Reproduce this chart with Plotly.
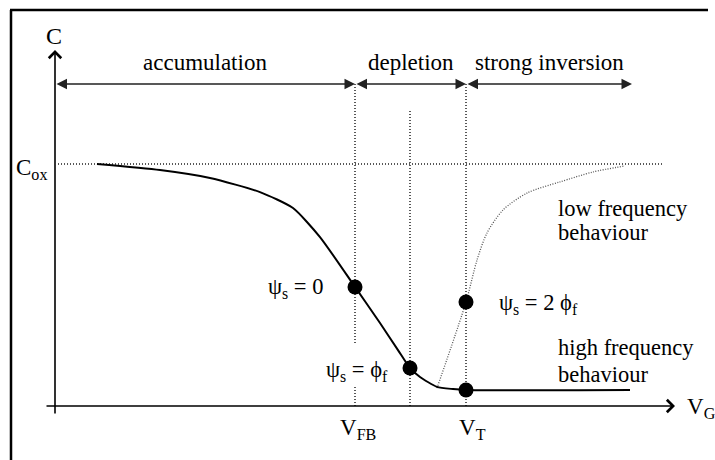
import plotly.graph_objects as go

# Gate voltage V_G in arbitrary units, capacitance normalised to C_ox
hf_v = [4.2, 10.5, 15.5, 20.5, 23.8, 26.5, 30.0, 32.5, 34.3, 35.5, 36.5, 38.2, 39.8, 41.1, 57.5]
hf_c = [1.0, 0.975, 0.942, 0.884, 0.818, 0.698, 0.492, 0.343, 0.231, 0.157, 0.12, 0.079, 0.07, 0.066, 0.066]

lf_v = [38.2, 41.1, 42.2, 43.2, 44.8, 47.2, 50.5, 53.8, 57.0]
lf_c = [0.074, 0.43, 0.603, 0.715, 0.81, 0.88, 0.926, 0.967, 0.992]

c_ox = 1.0
cox_span = [0.3, 60.8]

v_fb, v_phi, v_t = 30.0, 35.5, 41.1
point_v = [v_fb, v_phi, v_t, v_t]
point_c = [0.492, 0.157, 0.43, 0.066]

regions = ["accumulation", "depletion", "strong inversion"]
region_edges = [0.0, v_fb, v_t, 57.7]
region_level = 1.331

FONT = "Liberation Serif"
X_RANGE = [-5.5, 66.0]
Y_RANGE = [-0.2231, 1.6777]

fig = go.Figure()

# C_ox reference level
fig.add_trace(go.Scatter(x=cox_span, y=[c_ox, c_ox], mode="lines",
                         line=dict(color="#222", width=1.5, dash="1px,2px"),
                         hoverinfo="skip"))

# vertical guides at V_FB, the psi_s = phi_f point and V_T
guide_x = [v_fb, v_fb, None, v_fb, v_fb, None, v_phi, v_phi, None, v_t, v_t]
guide_y = [region_level, 0.26, None, 0.079, 0.0, None, 1.219, 0.0, None, region_level, 0.0]
fig.add_trace(go.Scatter(x=guide_x, y=guide_y, mode="lines",
                         line=dict(color="#222", width=1.5, dash="1px,2px"),
                         hoverinfo="skip"))

# low-frequency branch
fig.add_trace(go.Scatter(x=lf_v, y=lf_c, mode="lines",
                         line=dict(color="#555", width=1.3, dash="1px,1.5px", shape="spline", smoothing=0.8),
                         hoverinfo="skip"))

# high-frequency curve
fig.add_trace(go.Scatter(x=hf_v, y=hf_c, mode="lines",
                         line=dict(color="black", width=2, shape="spline", smoothing=0.6),
                         hoverinfo="skip"))

# characteristic points
fig.add_trace(go.Scatter(x=point_v, y=point_c, mode="markers",
                         marker=dict(color="black", size=15), hoverinfo="skip"))

annotations = []

# axes with arrowheads
annotations.append(dict(x=62.0, y=0.0, ax=-1.0, ay=0.0, xref="x", yref="y", axref="x", ayref="y",
                        text="", showarrow=True, arrowhead=4, arrowsize=1.5, arrowwidth=1.6,
                        arrowcolor="black"))
annotations.append(dict(x=0.0, y=1.471, ax=0.0, ay=-0.037, xref="x", yref="y", axref="x", ayref="y",
                        text="", showarrow=True, arrowhead=4, arrowsize=1.5, arrowwidth=1.6,
                        arrowcolor="black"))

# region arrows
for i, name in enumerate(regions):
    a, b = region_edges[i], region_edges[i + 1]
    annotations.append(dict(x=b, y=region_level, ax=a, ay=region_level,
                            xref="x", yref="y", axref="x", ayref="y", text="",
                            showarrow=True, arrowhead=2, arrowside="end+start",
                            arrowsize=1.4, arrowwidth=1.5, arrowcolor="#222"))
    annotations.append(dict(x=(a + b) / 2, y=1.421, xref="x", yref="y",
                            text=name, showarrow=False, xanchor="center", yanchor="middle",
                            font=dict(family=FONT, size=23, color="black")))


def label(text, x, y, xanchor="left", size=22.5):
    annotations.append(dict(x=x, y=y, xref="x", yref="y", text=text, showarrow=False,
                            xanchor=xanchor, yanchor="middle",
                            font=dict(family=FONT, size=size, color="black")))


label("C", -0.1, 1.529, xanchor="center", size=24)
label("C<sub>ox</sub>", -4.1, 0.98, size=23)
label("V<sub>G</sub>", 63.0, -0.01, size=23)
label("V<sub>FB</sub>", 28.3, -0.095, size=23)
label("V<sub>T</sub>", 40.2, -0.095, size=23)

label("ψ<sub>s</sub> = 0", 27.0, 0.488, xanchor="right")
label("ψ<sub>s</sub> = ϕ<sub>f</sub>", 33.5, 0.145, xanchor="right")
label("ψ<sub>s</sub> = 2 ϕ<sub>f</sub>", 44.2, 0.42)

label("low frequency", 50.1, 0.818)
label("behaviour", 50.1, 0.717)
label("high frequency", 50.1, 0.240)
label("behaviour", 50.1, 0.132)

# frame
shapes = [
    dict(type="line", xref="paper", yref="paper", x0=10 / 715, x1=708 / 715,
         y0=1 - 10 / 460, y1=1 - 10 / 460, line=dict(color="black", width=2.5)),
    dict(type="line", xref="paper", yref="paper", x0=11 / 715, x1=11 / 715,
         y0=0, y1=1 - 10 / 460, line=dict(color="black", width=2.5)),
]

fig.update_layout(
    width=715, height=460,
    margin=dict(l=0, r=0, t=0, b=0),
    paper_bgcolor="white", plot_bgcolor="white",
    showlegend=False,
    font=dict(family=FONT),
    xaxis=dict(range=X_RANGE, visible=False, fixedrange=True),
    yaxis=dict(range=Y_RANGE, visible=False, fixedrange=True),
    annotations=annotations,
    shapes=shapes,
)

fig.write_html("out.html")
